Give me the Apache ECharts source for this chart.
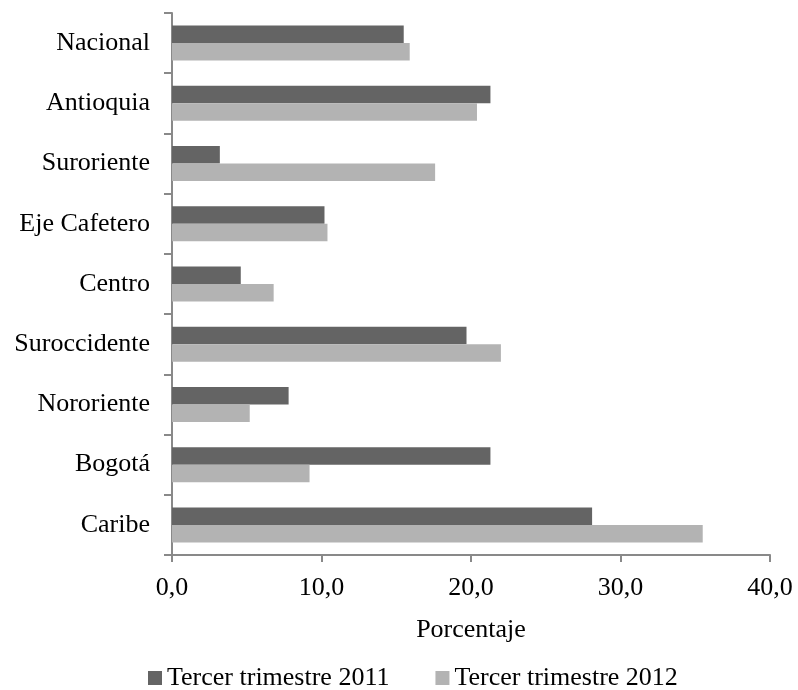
<!DOCTYPE html>
<html>
<head>
<meta charset="utf-8">
<script src="https://cdn.jsdelivr.net/npm/echarts@6/dist/echarts.min.js"></script>
<style>
html,body{margin:0;padding:0;background:#fff;}
#c{width:798px;height:690px;}
</style>
</head>
<body>
<div id="c"></div>
<script>
const categories = ["Nacional","Antioquia","Suroriente","Eje Cafetero","Centro","Suroccidente","Nororiente","Bogotá","Caribe"];
const seriesNames = ["Tercer trimestre 2011","Tercer trimestre 2012"];
const values2011 = [15.5, 21.3, 3.2, 10.2, 4.6, 19.7, 7.8, 21.3, 28.1];
const values2012 = [15.9, 20.4, 17.6, 10.4, 6.8, 22.0, 5.2, 9.2, 35.5];
const xTicks = [0, 10, 20, 30, 40];
const xAxisName = "Porcentaje";

const FONT = "'Liberation Serif','Times New Roman',serif";
const axisColor = "#898989";
const chart = echarts.init(document.getElementById('c'), null, {renderer:'canvas'});
chart.setOption({
  animation:false,
  backgroundColor:'#ffffff',
  textStyle:{fontFamily:FONT},
  grid:{left:172, right:28, top:13, bottom:135, containLabel:false},
  legend:{
    data:seriesNames,
    left:143, top:660,
    itemWidth:14, itemHeight:14, itemGap:46,
    icon:'rect',
    textStyle:{fontFamily:FONT, fontSize:26, color:'#000'}
  },
  xAxis:{
    type:'value',
    min:xTicks[0], max:xTicks[xTicks.length-1], interval:10,
    name:xAxisName, nameLocation:'middle', nameGap:62,
    nameTextStyle:{fontFamily:FONT, fontSize:26, color:'#000'},
    axisLine:{show:true, lineStyle:{color:axisColor, width:2}},
    axisTick:{show:true, length:7, lineStyle:{color:axisColor, width:2}},
    axisLabel:{fontFamily:FONT, fontSize:26, color:'#000', margin:20,
      formatter:v=>v.toFixed(1).replace('.',',')},
    splitLine:{show:false}
  },
  yAxis:{
    type:'category', data:categories, inverse:true,
    axisLine:{show:true, lineStyle:{color:axisColor, width:2}},
    axisTick:{show:true, length:8, lineStyle:{color:axisColor, width:2}},
    axisLabel:{fontFamily:FONT, fontSize:26, color:'#000', margin:22}
  },
  series:[
    {name:seriesNames[0], type:'bar', data:values2011, barWidth:17.5, barGap:'0%',
     itemStyle:{color:'#646464'}},
    {name:seriesNames[1], type:'bar', data:values2012, barWidth:17.5, barGap:'0%',
     itemStyle:{color:'#b3b3b3'}}
  ]
});
</script>
</body>
</html>
